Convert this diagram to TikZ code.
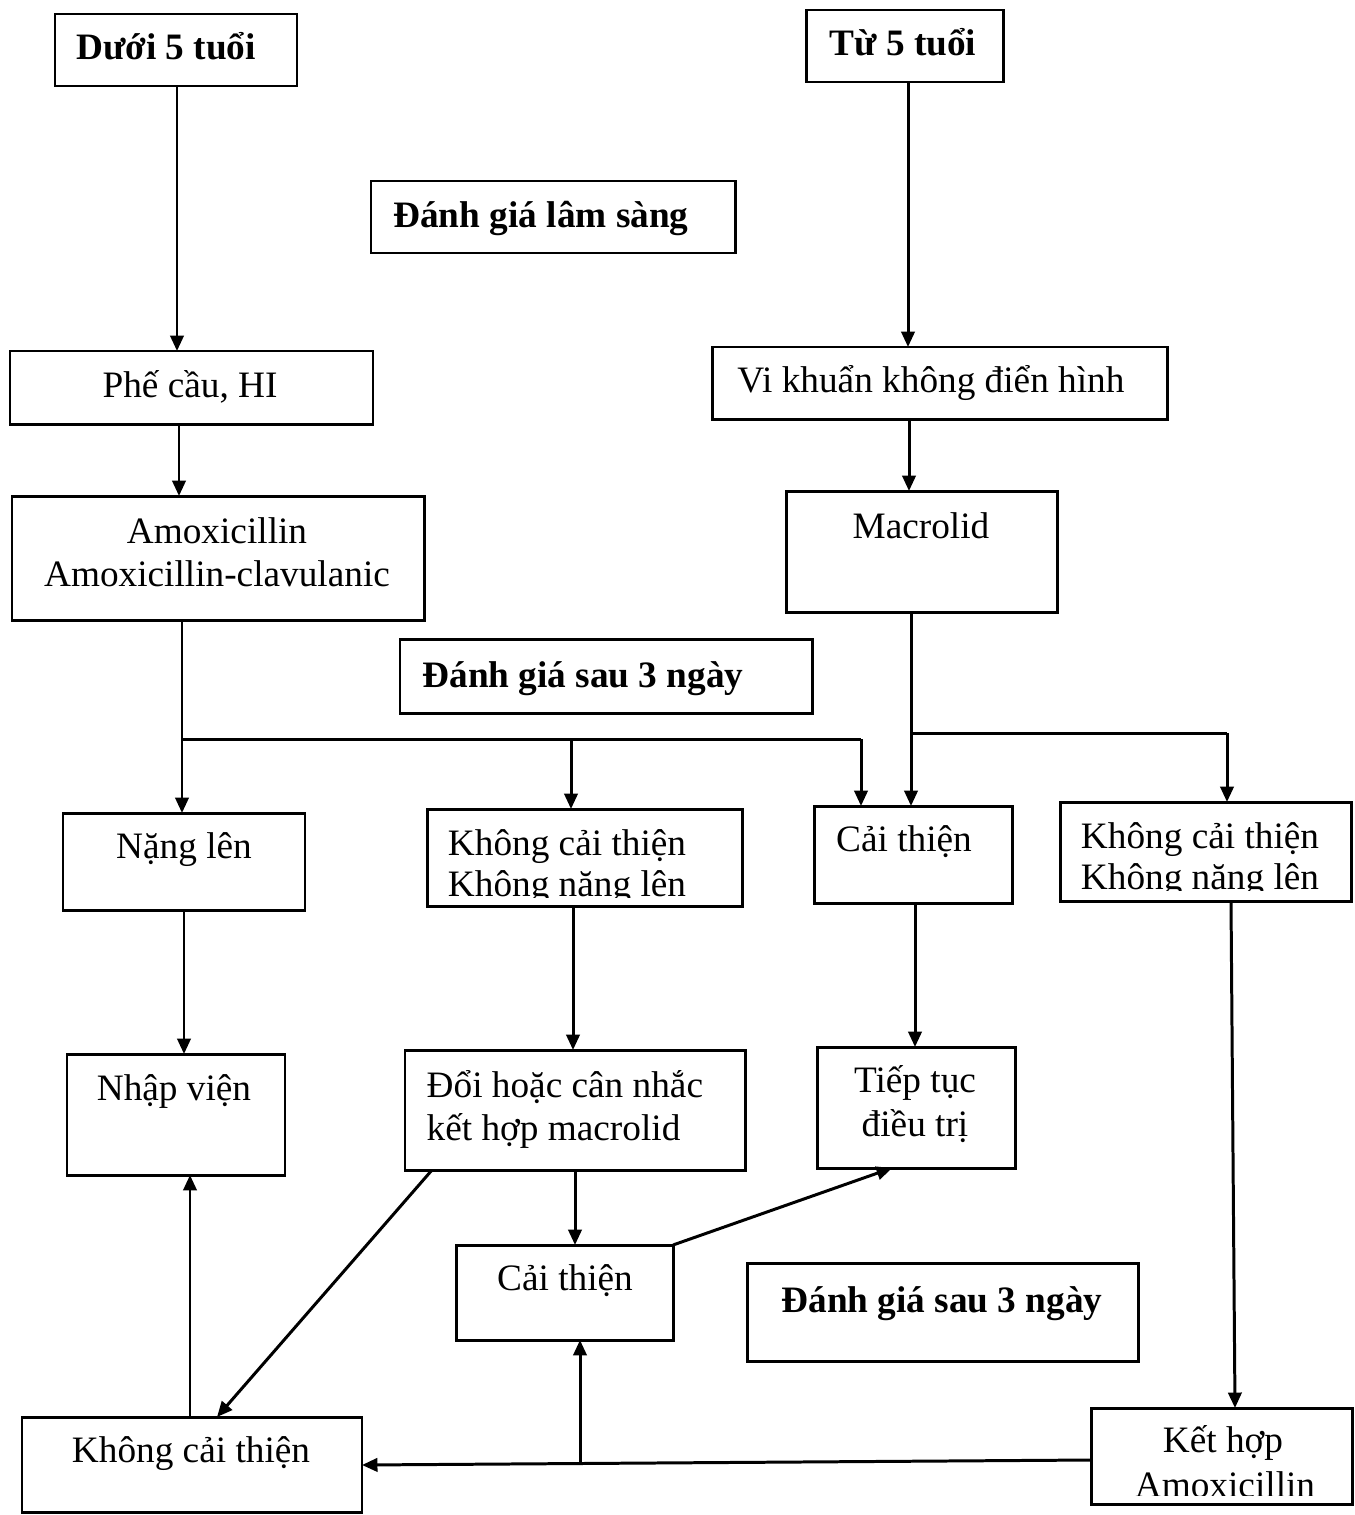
\documentclass[tikz,border=0pt]{standalone}
\usepackage{fontspec}
\setmainfont{Liberation Serif}
\usetikzlibrary{arrows.meta,fit,calc}
\begin{document}
\begin{tikzpicture}[x=0.01cm,y=-0.01cm,
  box/.style={draw, line width=0.85pt, inner sep=0pt, outer sep=0pt},
  lbl/.style={anchor=base, inner sep=0pt, font=\fontsize{10.6}{12}\selectfont},
  blbl/.style={anchor=base, inner sep=0pt, font=\fontsize{10.6}{12}\selectfont\bfseries},
  llbl/.style={anchor=base west, inner sep=0pt, font=\fontsize{10.6}{12}\selectfont},
  arr/.style={line width=0.85pt, -{Triangle[length=4.4pt,width=3.8pt]}},
  ln/.style={line width=0.85pt}]
\useasboundingbox[fill=white] (0,0) rectangle (1354,1515);

% boxes
\node[box, fit={(55,14) (297,86)}] (b1) {};
\node[box, fit={(806,10) (1003,82)}] (b2) {};
\node[box, fit={(371,181) (735,253)}] (b3) {};
\node[box, fit={(10,351) (373,424)}] (b4) {};
\node[box, fit={(712,347) (1167,419)}] (b5) {};
\node[box, fit={(12,496) (424,620)}] (b6) {};
\node[box, fit={(786,491) (1057,612)}] (b7) {};
\node[box, fit={(400,639) (812,713)}] (b8) {};
\node[box, fit={(63,813) (305,910)}] (b9) {};
\node[box, fit={(427,809) (742,906)}] (b10) {};
\node[box, fit={(814,806) (1012,903)}] (b11) {};
\node[box, fit={(1060,802) (1351,901)}] (b12) {};
\node[box, fit={(67,1054) (285,1175)}] (b13) {};
\node[box, fit={(405,1050) (745,1170)}] (b14) {};
\node[box, fit={(817,1047) (1015,1168)}] (b15) {};
\node[box, fit={(456,1245) (673,1340)}] (b16) {};
\node[box, fit={(747,1263) (1138,1361)}] (b17) {};
\node[box, fit={(22,1417) (362,1512)}] (b18) {};
\node[box, fit={(1091,1408) (1352,1504)}] (b19) {};

% texts
\node[blbl] at (166,60) {Dưới 5 tuổi};
\node[blbl] at (903,55) {Từ 5 tuổi};
\node[blbl] at (541,227) {Đánh giá lâm sàng};
\node[lbl] at (190,397) {Phế cầu, HI};
\node[lbl] at (931,392) {Vi khuẩn không điển hình};
\node[lbl] at (217,543) {Amoxicillin};
\node[lbl] at (217,586) {Amoxicillin-clavulanic};
\node[lbl] at (921,538) {Macrolid};
\node[blbl] at (583,687) {Đánh giá sau 3 ngày};
\node[lbl] at (184,858) {Nặng lên};
\node[lbl] at (567,855) {Không cải thiện};
\begin{scope}
  \clip (b10.north west) rectangle (742,897);
  \node[lbl] at (567,896) {Không nặng lên};
\end{scope}
\node[lbl] at (904,851) {Cải thiện};
\node[lbl] at (1200,848) {Không cải thiện};
\begin{scope}
  \clip (b12.north west) rectangle (1351,890);
  \node[lbl] at (1200,889) {Không nặng lên};
\end{scope}
\node[lbl] at (174,1100) {Nhập viện};
\node[llbl] at (426,1097) {Đổi hoặc cân nhắc};
\node[llbl] at (426,1140) {kết hợp macrolid};
\node[lbl] at (915,1092) {Tiếp tục};
\node[lbl] at (915,1136) {điều trị};
\node[lbl] at (565,1290) {Cải thiện};
\node[blbl] at (942,1312) {Đánh giá sau 3 ngày};
\node[lbl] at (191,1462) {Không cải thiện};
\node[lbl] at (1223,1452) {Kết hợp};
\begin{scope}
  \clip (b19.north west) rectangle (1352,1495);
  \node[lbl] at (1225,1497) {Amoxicillin};
\end{scope}

% connectors
\draw[arr] (177,0 |- b1.south) -- (177,0 |- b4.north);
\draw[arr] (908,0 |- b2.south) -- (908,0 |- b5.north);
\draw[arr] (179,0 |- b4.south) -- (179,0 |- b6.north);
\draw[arr] (909,0 |- b5.south) -- (909,0 |- b7.north);

\coordinate (j1) at (182,739);
\coordinate (j2) at (571,739);
\coordinate (j3) at (861,739);
\draw[ln] (182,0 |- b6.south) -- (j1) -- (j3);
\draw[arr] (j1) -- (j1 |- b9.north);
\draw[arr] (j2) -- (j2 |- b10.north);
\draw[arr] (j3) -- (j3 |- b11.north);

\coordinate (k1) at (911,733);
\coordinate (k2) at (1227,733);
\draw[arr] (911,0 |- b7.south) -- (911,0 |- b11.north);
\draw[ln] (k1) -- (k2);
\draw[arr] (k2) -- (k2 |- b12.north);

\draw[arr] (184,0 |- b9.south) -- (184,0 |- b13.north);
\draw[arr] (573,0 |- b10.south) -- (573,0 |- b14.north);
\draw[arr] (915,0 |- b11.south) -- (915,0 |- b15.north);
\draw[arr] (1231,0 |- b12.south) -- (1235,0 |- b19.north);

\draw[arr] (575,0 |- b14.south) -- (575,0 |- b16.north);
\draw[arr] (432,0 |- b14.south) -- (217,0 |- b18.north);
\draw[arr] (b16.north east) -- (892,0 |- b15.south);
\draw[arr] (190,0 |- b18.north) -- (190,0 |- b13.south);

\coordinate (m) at (580,1463);
\draw[arr] (b19.west |- 0,1460) -- (b18.east |- 0,1465);
\draw[arr] (m) -- (m |- b16.south);
\end{tikzpicture}
\end{document}
